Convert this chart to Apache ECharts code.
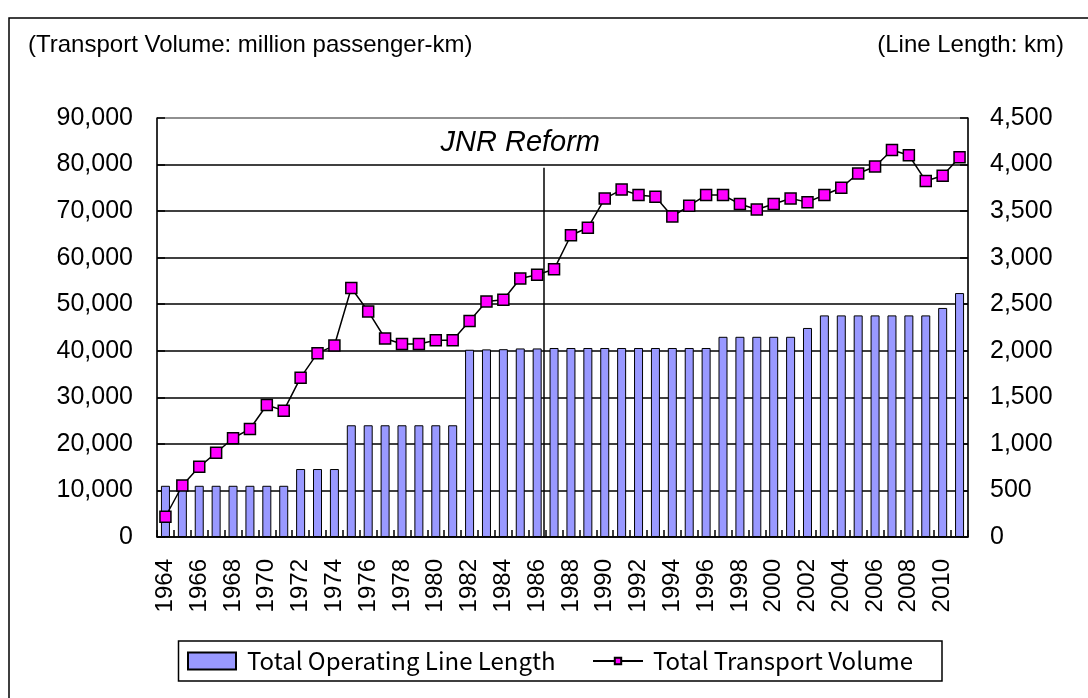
<!DOCTYPE html>
<html>
<head>
<meta charset="utf-8">
<script src="https://cdn.jsdelivr.net/npm/echarts@6/dist/echarts.min.js"></script>
<style>
html,body{margin:0;padding:0;background:#fff;}
#chart{width:1088px;height:698px;}
</style>
</head>
<body>
<div id="chart"></div>
<script>
// ---- data ----
const years = ['1964','1965','1966','1967','1968','1969','1970','1971','1972','1973','1974','1975','1976','1977','1978','1979','1980','1981','1982','1983','1984','1985','1986','1987','1988','1989','1990','1991','1992','1993','1994','1995','1996','1997','1998','1999','2000','2001','2002','2003','2004','2005','2006','2007','2008','2009','2010','2011'];
const lineLength = [550,550,550,550,550,550,550,550,730,730,730,1200,1200,1200,1200,1200,1200,1200,2011,2015,2017,2025,2025,2030,2030,2030,2030,2030,2030,2030,2030,2030,2030,2150,2150,2150,2150,2150,2245,2380,2380,2380,2380,2380,2380,2380,2460,2620];
const transportVolume = [4350,11060,15070,18100,21210,23210,28360,27140,34230,39490,41120,53480,48460,42640,41450,41450,42280,42280,46410,50580,50950,55510,56320,57500,64820,66420,72690,74620,73450,73100,68830,71170,73450,73450,71520,70340,71520,72690,71930,73450,75030,78070,79590,83120,82000,76480,77590,81590];
const leftTicks = {min:0, max:90000, interval:10000};
const rightTicks = {min:0, max:4500, interval:500};
const reformBoundary = 22.9;    // just before the start of 1987
const reformLineTop = 79300;
const reformLabel = 'JNR Reform';
const leftUnit = '(Transport Volume: million passenger-km)';
const rightUnit = '(Line Length: km)';
const barName = 'Total Operating Line Length';
const lineName = 'Total Transport Volume';

const fmt = v => v.toLocaleString('en-US');
const chart = echarts.init(document.getElementById('chart'), null, {renderer:'canvas'});
const yFont = {fontFamily:'Liberation Sans, Arial, sans-serif', fontSize:25, color:'#000'};
const xFont = {fontFamily:'Liberation Sans, Arial, sans-serif', fontSize:24, color:'#000'};
const legendFont = {fontFamily:'"Noto Sans CJK JP", sans-serif', fontSize:24, color:'#000'};

const gridLineColors = [];
for (let v = leftTicks.min; v <= leftTicks.max; v += leftTicks.interval) gridLineColors.push(v === leftTicks.max ? '#808080' : '#000');

chart.setOption({
  animation:false,
  backgroundColor:'#fff',
  graphic:[
    {type:'rect', shape:{x:9, y:18, width:1200, height:800}, style:{fill:'none', stroke:'#000', lineWidth:1.5}, z:-1},
    {type:'rect', shape:{x:178.5, y:641, width:763.5, height:40}, style:{fill:'#fff', stroke:'#000', lineWidth:1.5}, z:-1},
    {type:'text', left:28, top:33, style:{text:leftUnit, font:'24px "Liberation Sans", Arial, sans-serif', fill:'#000'}},
    {type:'text', right:24, top:33, style:{text:rightUnit, font:'24px "Liberation Sans", Arial, sans-serif', fill:'#000'}}
  ],
  grid:{left:157, right:120, top:118, bottom:161, show:true, borderColor:'#808080', borderWidth:1},
  legend:[
    {data:[{name:barName, icon:'rect'}], left:187, top:649, itemWidth:48, itemHeight:17, padding:0,
     textStyle:Object.assign({padding:[0,0,0,6]}, legendFont), selectedMode:false},
    {data:[lineName], left:592, top:649, itemWidth:50, itemHeight:8, padding:0,
     textStyle:Object.assign({padding:[0,0,0,5]}, legendFont), selectedMode:false}
  ],
  xAxis:[
    {type:'category', data:years, boundaryGap:true,
     axisLine:{show:true, lineStyle:{color:'#000', width:1.5}},
     axisTick:{show:true, inside:true, length:7, interval:0, lineStyle:{color:'#000', width:1.5}},
     axisLabel:Object.assign({rotate:90, interval:1, margin:22}, xFont),
     splitLine:{show:false}},
    {type:'value', min:0, max:years.length, show:false}
  ],
  yAxis:[
    {type:'value', min:leftTicks.min, max:leftTicks.max, interval:leftTicks.interval, position:'left',
     axisLine:{show:true, lineStyle:{color:'#000', width:1.5}},
     axisTick:{show:true, inside:true, length:8, lineStyle:{color:'#000', width:1.5}},
     axisLabel:Object.assign({margin:24, formatter:v=>fmt(v)}, yFont),
     splitLine:{show:true, lineStyle:{color:gridLineColors, width:1.5}}},
    {type:'value', min:rightTicks.min, max:rightTicks.max, interval:rightTicks.interval, position:'right',
     axisLine:{show:true, lineStyle:{color:'#000', width:1.5}},
     axisTick:{show:true, inside:true, length:8, lineStyle:{color:'#000', width:1.5}},
     axisLabel:Object.assign({margin:22, formatter:v=>fmt(v)}, yFont),
     splitLine:{show:false}}
  ],
  series:[
    {name:barName, type:'bar', xAxisIndex:0, yAxisIndex:1, data:lineLength, barWidth:9,
     itemStyle:{color:'#9999FF', borderColor:'#000', borderWidth:1}, z:2},
    {name:lineName, type:'line', xAxisIndex:0, yAxisIndex:0, data:transportVolume,
     symbol:'rect', symbolSize:11, showAllSymbol:true,
     lineStyle:{color:'#000', width:1.5},
     itemStyle:{color:'#FF00FF', borderColor:'#000', borderWidth:1.5}, z:4},
    {type:'line', xAxisIndex:1, yAxisIndex:0, data:[], silent:true,
     markLine:{symbol:'none', silent:true, label:{show:false},
       lineStyle:{color:'#000', width:1.5, type:'solid'},
       data:[[{coord:[reformBoundary, 0]}, {coord:[reformBoundary, reformLineTop]}]]},
     markPoint:{symbol:'circle', symbolSize:0, silent:true,
       label:{show:true, position:'inside', formatter:reformLabel, fontFamily:'Liberation Sans, Arial, sans-serif', fontStyle:'italic', fontSize:29, color:'#000'},
       data:[{coord:[21.5, 84600]}]}, z:3}
  ]
});
</script>
</body>
</html>
